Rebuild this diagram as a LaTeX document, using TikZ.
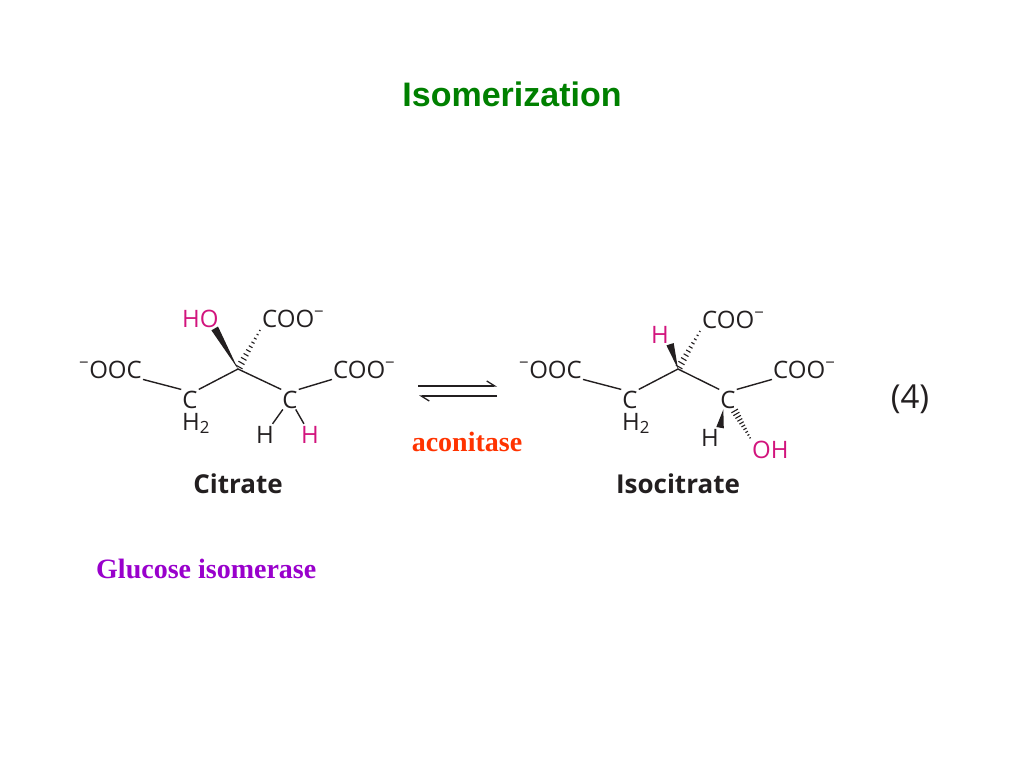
\documentclass[tikz,border=0pt]{standalone}
\usepackage{fontspec}
\setmainfont{Liberation Serif}
\newfontfamily\chemfont{Open Sans}
\newfontfamily\headfont{Liberation Sans}
\usepackage{tikz}
\usetikzlibrary{arrows.meta, calc, positioning}
\definecolor{headgreen}{RGB}{0,128,0}
\definecolor{enzred}{RGB}{255,51,0}
\definecolor{enzpurple}{RGB}{153,0,204}
\definecolor{chemgray}{RGB}{35,31,32}
\definecolor{chemmag}{RGB}{210,20,125}
\tikzstyle{atom} = [inner sep=1pt, text=chemgray, font=\chemfont\fontsize{24}{26}\selectfont]
\tikzstyle{hatom} = [atom, text=chemmag]
\tikzstyle{molname} = [inner sep=0pt, text=chemgray, font=\chemfont\bfseries\fontsize{26}{28}\selectfont]
\tikzstyle{enz} = [inner sep=0pt, font=\bfseries\fontsize{28}{30}\selectfont]
\tikzstyle{bond} = [chemgray, line width=1.4pt]
\tikzstyle{harpoon} = [chemgray, line width=1.3pt, -{Straight Barb[left, length=8pt, width=10pt]}]
\newcommand{\chgm}{\textsuperscript{\char"2212}}
\newcommand{\wedgebond}[2]{\fill[chemgray] (#1) -- ($(#2)!3.8pt!90:(#1)$) -- ($(#2)!3.8pt!-90:(#1)$) -- cycle;}
\newcommand{\hashbond}[2]{\foreach \t in {0.05,0.15,...,0.95}{\pgfmathsetmacro\hw{0.6+3.4*(1-\t)}\draw[chemgray, line width=1.1pt] ($(#1)!\t!(#2)!\hw pt!90:(#2)$) -- ($(#1)!\t!(#2)!\hw pt!-90:(#2)$);}}
\begin{document}
\begin{tikzpicture}[x=1pt, y=-1pt]
            \fill[white] (0,0) rectangle (1024,768);
            \useasboundingbox (0,0) rectangle (1024,768);

            \node[anchor=base, inner sep=0pt, text=headgreen, font=\headfont\bfseries\fontsize{34}{40}\selectfont] (title) at (512,106) {Isomerization};

            % citrate
            \node[atom, anchor=base east] (ooc1) at (143,378) {\chgm OOC};
            \node[atom, anchor=base] (c1) at (190,408) {C};
            \node[atom, anchor=base west] (h2a) at (181,430) {H\textsubscript{2}};
            \coordinate (ctr1) at (238,369);
            \node[hatom, anchor=base west] (ho) at (181,327) {HO};
            \node[atom, anchor=base west] (cooT1) at (261,327) {COO\chgm};
            \node[atom, anchor=base] (c2) at (290,408) {C};
            \node[atom, anchor=base west] (cooR1) at (332,378) {COO\chgm};
            \node[atom, anchor=base] (hB1) at (265,443) {H};
            \node[hatom, anchor=base] (hM1) at (310,443) {H};
            \node[molname, anchor=base] (citrate) at (238,493) {Citrate};

            \draw[bond] (ooc1.south east) -- (c1.north west);
            \draw[bond] (c1.north east) -- (ctr1) -- (c2.north west);
            \draw[bond] (c2.north east) -- (cooR1.south west);
            \draw[bond, shorten >=1pt] (c2) -- (hB1);
            \draw[bond, shorten >=1pt] (c2) -- (hM1);
            \wedgebond{ctr1}{ho.-35}
            \hashbond{ctr1}{cooT1.south west}

            % equilibrium arrows
            \coordinate (eqA) at (418,386);
            \coordinate (eqB) at (497,386);
            \coordinate (eqC) at (419,396);
            \coordinate (eqD) at (497,396);
            \draw[harpoon] (eqA) -- (eqB);
            \draw[harpoon] (eqD) -- (eqC);
            \node[enz, text=enzred, anchor=base] (aconitase) at (467,451) {aconitase};

            % isocitrate
            \node[atom, anchor=base east] (ooc2) at (583,378) {\chgm OOC};
            \node[atom, anchor=base] (c3) at (630,408) {C};
            \node[atom, anchor=base west] (h2b) at (621,430) {H\textsubscript{2}};
            \coordinate (ctr2) at (678,369);
            \node[hatom, anchor=base] (hI1) at (660,343) {H};
            \node[atom, anchor=base west] (cooT2) at (701,328) {COO\chgm};
            \node[atom, anchor=base] (c4) at (728,408) {C};
            \node[atom, anchor=base west] (cooR2) at (772,378) {COO\chgm};
            \node[atom, anchor=base] (hI2) at (710,446) {H};
            \node[hatom, anchor=base west] (oh) at (751,458) {OH};
            \node[molname, anchor=base] (isocitrate) at (678,493) {Isocitrate};

            \draw[bond] (ooc2.south east) -- (c3.north west);
            \draw[bond] (c3.north east) -- (ctr2) -- (c4.north west);
            \draw[bond] (c4.north east) -- (cooR2.south west);
            \wedgebond{ctr2}{hI1.south east}
            \hashbond{ctr2}{cooT2.south west}
            \wedgebond{c4.-115}{hI2.north east}
            \hashbond{c4.-60}{oh.north west}

            \node[atom, anchor=base, font=\chemfont\fontsize{33}{35}\selectfont] (eqnum) at (910,408) {(4)};

            \node[enz, text=enzpurple, anchor=base west] (glucose) at (96,578) {Glucose isomerase};

        \end{tikzpicture}
\end{document}
